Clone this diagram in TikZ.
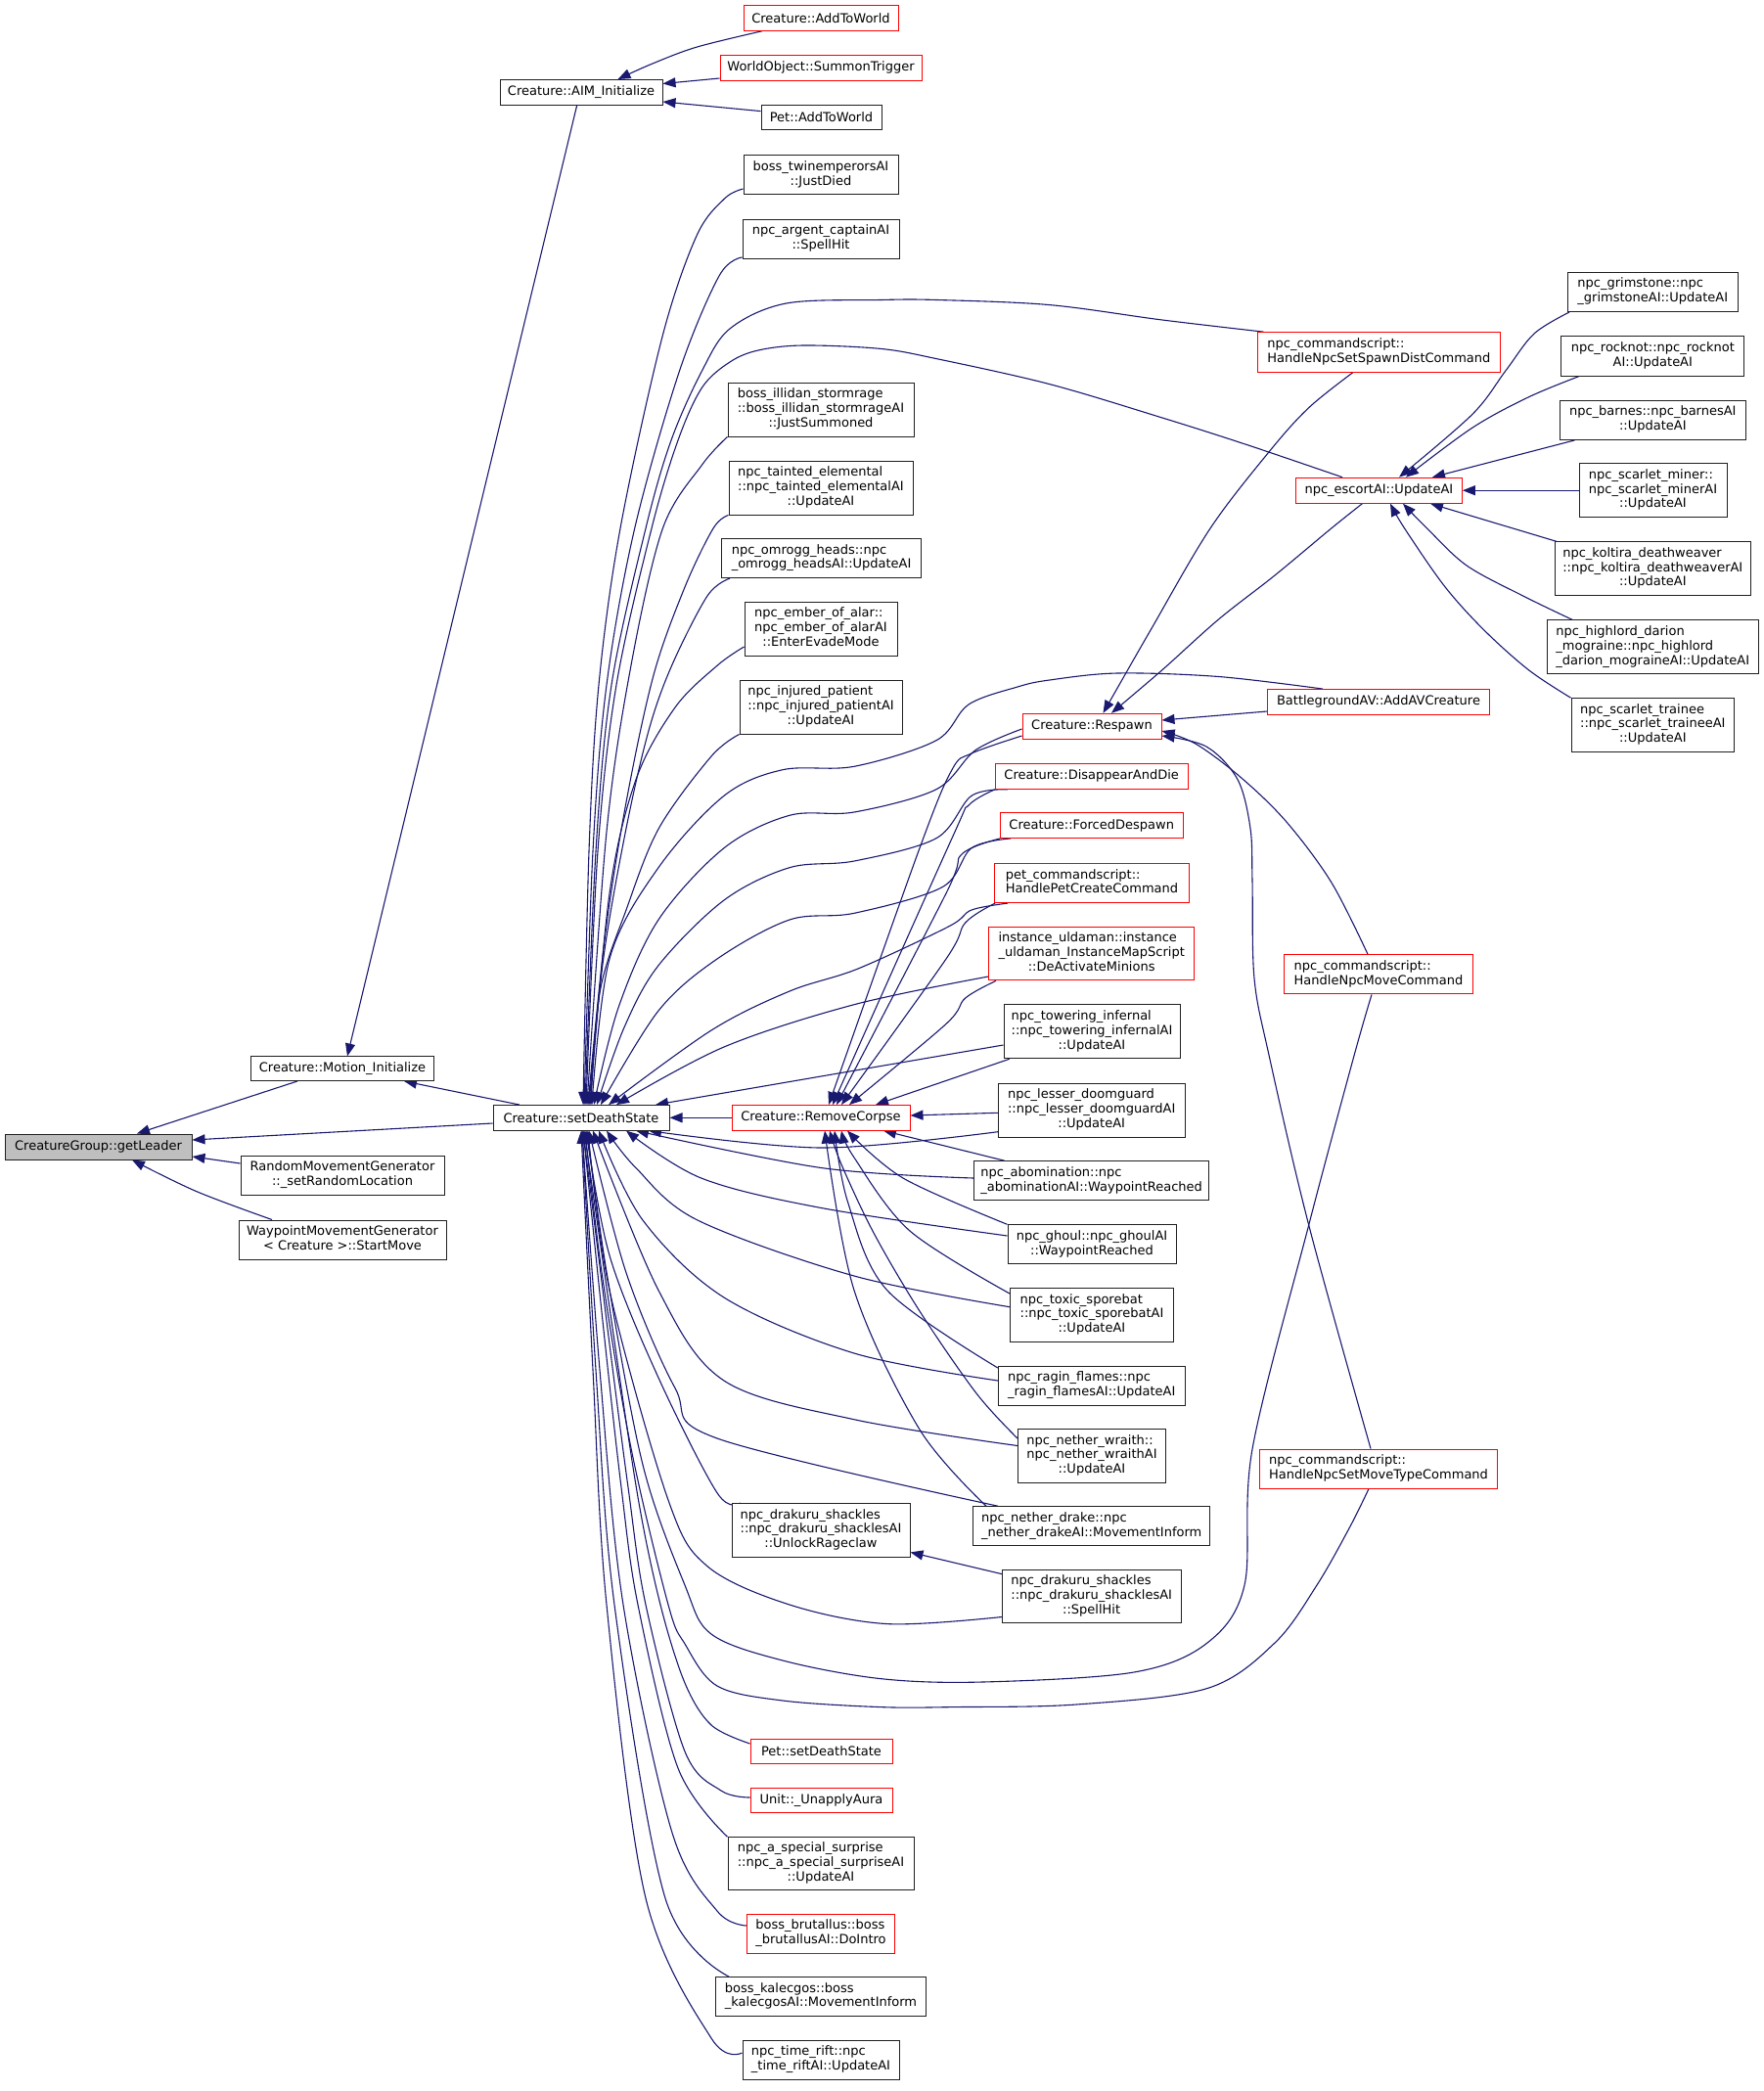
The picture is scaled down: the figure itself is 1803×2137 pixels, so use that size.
\documentclass[tikz,border=0pt]{standalone}
\usepackage{fontspec}
\setmainfont{DejaVu Sans}
\usetikzlibrary{arrows.meta,calc}
\definecolor{edgeblue}{HTML}{191970}
\definecolor{boxred}{HTML}{FF0000}
\definecolor{boxline}{HTML}{202020}
\definecolor{leadfill}{HTML}{BFBFBF}
\newcommand\nodefont{\fontsize{13}{14.8}\selectfont}
\newcommand\ml[2]{\begin{tabular}{@{}l@{}}#1\\\multicolumn{1}{@{}c@{}}{#2}\end{tabular}}
\pgfdeclarelayer{edges}
\pgfsetlayers{edges,main}
\tikzset{
 box/.style={draw=boxline, line width=1pt, fill=white, inner sep=0pt, font=\nodefont, text=black, align=center},
 redbox/.style={box, draw=boxred},
 leadbox/.style={box, fill=leadfill},
 call/.style={draw=edgeblue, line width=1.1pt, -{Triangle[length=13pt,width=10pt]}},
 sm/.style={smooth, tension=0.55},
}
\begin{document}
\begin{tikzpicture}[x=1pt,y=-1pt]
\useasboundingbox (0,0) rectangle (1803,2137);
% column 1
\node[leadbox, minimum width=191, minimum height=26] (gl) at (100.5,1172) {CreatureGroup::getLeader};
% column 2
\node[box, minimum width=187, minimum height=24.5] (mi) at (350,1092.2) {Creature::Motion\_Initialize};
\node[box, minimum width=208, minimum height=40] (rmg) at (350,1201) {\ml{RandomMovementGenerator}{::\_setRandomLocation}};
\node[box, minimum width=212, minimum height=40] (wmg) at (350,1267) {\ml{WaypointMovementGenerator}{< Creature >::StartMove}};
% column 3
\node[box, minimum width=180, minimum height=25.5] (sds) at (594,1142.3) {Creature::setDeathState};
\node[box, minimum width=166, minimum height=26] (aim) at (594,94.5) {Creature::AIM\_Initialize};
% column 4
\node[redbox, minimum width=158, minimum height=25.5] (atw) at (839,18.5) {Creature::AddToWorld};
\node[redbox, minimum width=206, minimum height=26] (sum) at (839,69.4) {WorldObject::SummonTrigger};
\node[box, minimum width=123, minimum height=25] (patw) at (839.5,119.5) {Pet::AddToWorld};
\node[box, minimum width=158, minimum height=40] (twin) at (839,178.7) {\ml{boss\_twinemperorsAI}{::JustDied}};
\node[box, minimum width=160, minimum height=40] (arg) at (839,244) {\ml{npc\_argent\_captainAI}{::SpellHit}};
\node[box, minimum width=190, minimum height=55] (ill) at (839,418.5) {\ml{boss\_illidan\_stormrage\\::boss\_illidan\_stormrageAI}{::JustSummoned}};
\node[box, minimum width=188, minimum height=55] (tai) at (839,498.5) {\ml{npc\_tainted\_elemental\\::npc\_tainted\_elementalAI}{::UpdateAI}};
\node[box, minimum width=204, minimum height=40] (omr) at (839.6,570.6) {\ml{npc\_omrogg\_heads::npc}{\_omrogg\_headsAI::UpdateAI}};
\node[box, minimum width=156, minimum height=55] (emb) at (839,642.5) {\ml{npc\_ember\_of\_alar::\\npc\_ember\_of\_alarAI}{::EnterEvadeMode}};
\node[box, minimum width=166, minimum height=55] (inj) at (839,722.5) {\ml{npc\_injured\_patient\\::npc\_injured\_patientAI}{::UpdateAI}};
\node[redbox, minimum width=182, minimum height=25.5] (rc) at (839,1142.3) {Creature::RemoveCorpse};
\node[box, minimum width=182, minimum height=55] (unl) at (839,1564) {\ml{npc\_drakuru\_shackles\\::npc\_drakuru\_shacklesAI}{::UnlockRageclaw}};
\node[redbox, minimum width=145, minimum height=25.5] (psd) at (839.5,1790) {Pet::setDeathState};
\node[redbox, minimum width=145, minimum height=25.5] (una) at (839.5,1840) {Unit::\_UnapplyAura};
\node[box, minimum width=190, minimum height=54] (spe) at (839,1904.7) {\ml{npc\_a\_special\_surprise\\::npc\_a\_special\_surpriseAI}{::UpdateAI}};
\node[redbox, minimum width=151.5, minimum height=40] (bru) at (839,1976) {\ml{boss\_brutallus::boss}{\_brutallusAI::DoIntro}};
\node[box, minimum width=215, minimum height=40] (kal) at (839,2040.5) {\ml{boss\_kalecgos::boss}{\_kalecgosAI::MovementInform}};
\node[box, minimum width=160, minimum height=40] (tri) at (839,2105) {\ml{npc\_time\_rift::npc}{\_time\_riftAI::UpdateAI}};
% column 5
\node[redbox, minimum width=142, minimum height=26] (res) at (1116,742.3) {Creature::Respawn};
\node[redbox, minimum width=197, minimum height=26] (dis) at (1115.7,793.3) {Creature::DisappearAndDie};
\node[redbox, minimum width=187, minimum height=25.5] (fds) at (1115.7,843.7) {Creature::ForcedDespawn};
\node[redbox, minimum width=199, minimum height=40] (pcmd) at (1116,902.6) {\ml{pet\_commandscript::}{HandlePetCreateCommand}};
\node[redbox, minimum width=210, minimum height=54.5] (uld) at (1115.7,974.6) {\ml{instance\_uldaman::instance\\\_uldaman\_InstanceMapScript}{::DeActivateMinions}};
\node[box, minimum width=180, minimum height=55] (tow) at (1116,1054.3) {\ml{npc\_towering\_infernal\\::npc\_towering\_infernalAI}{::UpdateAI}};
\node[box, minimum width=190.6, minimum height=55] (dmg) at (1115.7,1134.5) {\ml{npc\_lesser\_doomguard\\::npc\_lesser\_doomguardAI}{::UpdateAI}};
\node[box, minimum width=240, minimum height=40] (abo) at (1115.7,1206.7) {\ml{npc\_abomination::npc}{\_abominationAI::WaypointReached}};
\node[box, minimum width=172, minimum height=40] (gho) at (1116,1271.8) {\ml{npc\_ghoul::npc\_ghoulAI}{::WaypointReached}};
\node[box, minimum width=167, minimum height=55] (spo) at (1116,1344) {\ml{npc\_toxic\_sporebat\\::npc\_toxic\_sporebatAI}{::UpdateAI}};
\node[box, minimum width=190.6, minimum height=40] (rag) at (1115.7,1416) {\ml{npc\_ragin\_flames::npc}{\_ragin\_flamesAI::UpdateAI}};
\node[box, minimum width=151, minimum height=55] (wra) at (1116,1488) {\ml{npc\_nether\_wraith::\\npc\_nether\_wraithAI}{::UpdateAI}};
\node[box, minimum width=242.5, minimum height=40] (dra) at (1115.7,1559.7) {\ml{npc\_nether\_drake::npc}{\_nether\_drakeAI::MovementInform}};
\node[box, minimum width=182.6, minimum height=54] (shit) at (1115.7,1631.5) {\ml{npc\_drakuru\_shackles\\::npc\_drakuru\_shacklesAI}{::SpellHit}};
% column 6
\node[redbox, minimum width=248, minimum height=40.7] (ssd) at (1409.4,360) {\ml{npc\_commandscript::}{HandleNpcSetSpawnDistCommand}};
\node[redbox, minimum width=170, minimum height=26] (esc) at (1409.4,501.2) {npc\_escortAI::UpdateAI};
\node[redbox, minimum width=227, minimum height=25.5] (av) at (1409,717.3) {BattlegroundAV::AddAVCreature};
\node[redbox, minimum width=193.5, minimum height=40.3] (mcmd) at (1409,995.8) {\ml{npc\_commandscript::}{HandleNpcMoveCommand}};
\node[redbox, minimum width=243, minimum height=40] (mtyp) at (1409,1501) {\ml{npc\_commandscript::}{HandleNpcSetMoveTypeCommand}};
% column 7
\node[box, minimum width=173.4, minimum height=40.5] (gri) at (1689.3,298.3) {\ml{npc\_grimstone::npc}{\_grimstoneAI::UpdateAI}};
\node[box, minimum width=187, minimum height=40.7] (roc) at (1689.3,363.7) {\ml{npc\_rocknot::npc\_rocknot}{AI::UpdateAI}};
\node[box, minimum width=190.6, minimum height=40.4] (bar) at (1689.3,429.2) {\ml{npc\_barnes::npc\_barnesAI}{::UpdateAI}};
\node[box, minimum width=151, minimum height=54.8] (min) at (1689.5,501.2) {\ml{npc\_scarlet\_miner::\\npc\_scarlet\_minerAI}{::UpdateAI}};
\node[box, minimum width=200, minimum height=54.7] (kol) at (1689.3,581.2) {\ml{npc\_koltira\_deathweaver\\::npc\_koltira\_deathweaverAI}{::UpdateAI}};
\node[box, minimum width=216, minimum height=55] (hig) at (1689.3,661.3) {\ml{npc\_highlord\_darion\\\_mograine::npc\_highlord}{\_darion\_mograineAI::UpdateAI}};
\node[box, minimum width=166.5, minimum height=54.7] (tra) at (1689.3,741) {\ml{npc\_scarlet\_trainee\\::npc\_scarlet\_traineeAI}{::UpdateAI}};

\begin{pgfonlayer}{edges}
% into getLeader
\draw[call] (mi.south -| 304,0) -- (gl.north -| 140,0);
\draw[call] (sds.west |- 0,1148) -- (gl.east |- 0,1165);
\draw[call] (rmg.west |- 0,1189) -- (gl.east |- 0,1182);
\draw[call] plot[sm] coordinates {(wmg.north -| 278,0) (201,1217.7) (gl.south -| 135,0)};
% into Motion_Initialize
\draw[call] (aim.south -| 589.6,0) -- (mi.north -| 355,0);
\draw[call] (sds.north -| 531,0) -- (mi.south -| 413,0);
% into AIM_Initialize
\draw[call] plot[sm] coordinates {(atw.south -| 779,0) (711.8,48.2) (666,65.4) (aim.north -| 631.5,0)};
\draw[call] (sum.west |- 0,80) -- (aim.east |- 0,85.5);
\draw[call] (patw.west |- 0,113.6) -- (aim.east |- 0,104);
% into escortAI
\draw[call] plot[sm] coordinates {(gri.south -| 1604,0) (1568,341) (1539,378.8) (1504.7,423.6) (esc.north -| 1430,0)};
\draw[call] plot[sm] coordinates {(roc.south -| 1614,0) (1562,406) (1504.7,437.3) (esc.north -| 1437,0)};
\draw[call] (bar.south -| 1609.5,0) -- (esc.north -| 1464,0);
\draw[call] (min.west) -- (esc.east);
\draw[call] (kol.north -| 1591,0) -- (esc.south -| 1462,0);
\draw[call] plot[sm] coordinates {(hig.north -| 1607,0) (1556.5,608.9) (1499,577.9) (1458.6,540) (esc.south -| 1434,0)};
\draw[call] plot[sm] coordinates {(tra.north -| 1605.5,0) (1562.3,684.6) (1516.2,643.3) (1476,598.5) (1435.6,540) (esc.south -| 1421,0)};
% into Respawn
\draw[call] plot[sm] coordinates {(ssd.south -| 1382.6,0) (1337.7,416.7) (1297.4,461.4) (1237,540) (1176.4,643.3) (res.north -| 1127.5,0)};
\draw[call] plot[sm] coordinates {(esc.south -| 1392.4,0) (1360.7,540) (1303,588) (1245.5,633) (1188,684.6) (res.north -| 1136,0)};
\draw[call] (av.west |- 0,727) -- (res.east |- 0,736);
\draw[call] plot[sm] coordinates {(mcmd.north -| 1398,0) (1360.7,901.6) (1314.6,839.6) (1268.6,794.8) (1222.5,760.4) (res.east |- 0,747)};
\draw[call] plot[sm] coordinates {(mtyp.north -| 1401,0) (1337.7,1252) (1297.4,1080) (1282,1000) (1280,900) (1278,846.7) (1265,796.7) (1233,763) (res.east |- 0,752)};
% into RemoveCorpse
\draw[call] plot[sm] coordinates {(res.west |- 0,752) (993,770) (973,786.7) (940,866.7) (rc.north -| 847,0)};
\draw[call] plot[sm] coordinates {(dis.south -| 1017,0) (990,823) (973,856.7) (rc.north -| 851,0)};
\draw[call] plot[sm] coordinates {(fds.south -| 1022,0) (983,873) (967,913) (rc.north -| 855,0)};
\draw[call] plot[sm] coordinates {(pcmd.south -| 1017,0) (986.7,943) (967,980) (rc.north -| 860,0)};
\draw[call] plot[sm] coordinates {(uld.south -| 1018,0) (986.7,1020) (966.7,1046.7) (rc.north -| 868,0)};
\draw[call] (tow.south -| 1031.7,0) -- (rc.north -| 895,0);
\draw[call] (dmg.west |- 0,1137.3) -- (rc.east |- 0,1140);
\draw[call] (abo.north -| 1026.7,0) -- (rc.south -| 903,0);
\draw[call] plot[sm] coordinates {(gho.north west) (923,1204) (rc.south -| 866,0)};
\draw[call] plot[sm] coordinates {(spo.west |- 0,1322) (930,1258) (873,1183) (rc.south -| 860,0)};
\draw[call] plot[sm] coordinates {(rag.west |- 0,1398) (906.7,1318.6) (866.7,1229) (rc.south -| 853,0)};
\draw[call] plot[sm] coordinates {(wra.west |- 0,1470) (998,1424) (940,1340) (893,1260) (860,1190) (rc.south -| 848,0)};
\draw[call] plot[sm] coordinates {(dra.north -| 1008,0) (940,1461) (873,1318.6) (rc.south -| 843,0)};
\draw[call] (rc.west) -- (sds.east);
% into setDeathState, from above
\draw[call] plot[sm] coordinates {(twin.west |- 0,193) (740.5,203) (712,241) (677,344) (634,540) (612,700) (602,870) (sds.north -| 596,0)};
\draw[call] plot[sm] coordinates {(arg.west |- 0,263) (735,282) (694.6,378.8) (648.7,540) (620,700) (606,870) (sds.north -| 597,0)};
\draw[call] plot[sm] coordinates {(ssd.north -| 1291.6,0) (1188,327) (1072.8,311.6) (957.6,306.5) (900,306.5) (803.7,310) (746.3,335.7) (717.6,378.8) (686,450) (660,540) (625,700) (609,870) (sds.north -| 598,0)};
\draw[call] plot[sm] coordinates {(esc.north -| 1372,0) (1274.3,454.5) (1188,427) (1072.8,392.6) (957.6,366.7) (900,356.4) (821,353) (775,358) (746,370) (717.6,396) (693,450) (666,540) (630,700) (611,870) (sds.north -| 599,0)};
\draw[call] plot[sm] coordinates {(ill.south west) (717.6,475) (677.4,540) (645,680) (620,850) (sds.north -| 600,0)};
\draw[call] plot[sm] coordinates {(tai.south west) (729,540) (700,600) (668,690) (640,820) (618,960) (sds.north -| 601,0)};
\draw[call] plot[sm] coordinates {(omr.south -| 746,0) (723,609) (686.7,680) (663,746.7) (640,846.7) (616.7,980) (sds.north -| 602,0)};
\draw[call] plot[sm] coordinates {(emb.west |- 0,661) (733.3,680) (690,723) (650,796.7) (623,913) (sds.north -| 603,0)};
\draw[call] plot[sm] coordinates {(inj.south west) (726.7,773.3) (673.3,846.7) (640,930) (613.3,1013) (sds.north -| 604,0)};
\draw[call] plot[sm] coordinates {(av.north -| 1352,0) (1245.5,691.5) (1142,688) (1072.8,695) (1040,702) (990,720) (957,756.7) (873,783.3) (800,786.7) (740,813.3) (673,886.7) (623,980) (sds.north -| 605,0)};
\draw[call] plot[sm] coordinates {(res.west |- 0,745) (997,766.7) (957,806.7) (873,830) (807,833.3) (740,866.7) (673,940) (632,1030) (sds.north -| 607,0)};
\draw[call] plot[sm] coordinates {(dis.south -| 1030,0) (993,813.3) (957,856.7) (873,880) (807,886.7) (740,920) (673,986.7) (638,1050) (sds.north -| 610,0)};
\draw[call] plot[sm] coordinates {(fds.south -| 1033,0) (993,866.7) (963,906.7) (873,933.3) (807,940) (733,980) (673,1033) (sds.north -| 614,0)};
\draw[call] plot[sm] coordinates {(pcmd.south -| 1030,0) (993,930) (970,946.7) (877,990) (807,1013) (727,1053) (sds.north -| 622,0)};
\draw[call] plot[sm] coordinates {(uld.west |- 0,998) (873,1026.7) (740,1070) (sds.north -| 630,0)};
\draw[call] (tow.west |- 0,1068) -- (sds.north -| 670,0);
% into setDeathState, from below
\draw[call] plot[sm] coordinates {(dmg.west |- 0,1156.7) (840,1173) (sds.south -| 663,0)};
\draw[call] plot[sm] coordinates {(abo.west |- 0,1204) (840,1193.6) (sds.south -| 650,0)};
\draw[call] plot[sm] coordinates {(gho.west |- 0,1263) (840,1234.6) (716.7,1204) (sds.south -| 640,0)};
\draw[call] plot[sm] coordinates {(spo.west |- 0,1335.7) (873,1304) (713,1247) (650,1193.6) (sds.south -| 620,0)};
\draw[call] plot[sm] coordinates {(rag.west |- 0,1411) (873,1383) (740,1326) (657,1247) (sds.south -| 612,0)};
\draw[call] plot[sm] coordinates {(wra.west |- 0,1477.5) (873,1450.7) (740,1411) (673,1318.6) (sds.south -| 606,0)};
\draw[call] plot[sm] coordinates {(dra.north -| 1020,0) (733,1470) (690,1418.6) (640,1300.7) (sds.south -| 602,0)};
\draw[call] plot[sm] coordinates {(unl.north -| 757,0) (733,1525.7) (673,1408) (623,1283) (sds.south -| 599,0)};
\draw[call] plot[sm] coordinates {(shit.west |- 0,1652.5) (907,1659.6) (807,1640) (723,1600.7) (683,1533) (623,1318.6) (sds.south -| 601,0)};
\draw[call] (shit.west |- 0,1608.6) -- (unl.east |- 0,1586.4);
\draw[call] plot[sm] coordinates {(mcmd.south -| 1402,0) (1383.7,1080) (1337.7,1252) (1280,1481) (1272,1620) (1234,1679) (1159,1709) (1004,1719) (900,1715.6) (800,1697) (727,1670) (700,1620) (657,1497) (620,1300) (sds.south -| 600,0)};
\draw[call] plot[sm] coordinates {(mtyp.south -| 1399,0) (1380,1560) (1346,1620) (1303,1679) (1234,1725.5) (1100,1742) (975,1744.6) (900,1744.6) (800,1738) (733,1723) (700,1680) (683,1640) (645,1480) (615,1300) (sds.south -| 598,0)};
\draw[call] plot[sm] coordinates {(psd.west |- 0,1782) (727,1763) (700,1720) (675,1640) (652,1530) (625,1350) (sds.south -| 597,0)};
\draw[call] plot[sm] coordinates {(una.west |- 0,1837) (737,1830) (700,1790) (660,1640) (642,1520) (620,1350) (sds.south -| 596,0)};
\draw[call] plot[sm] coordinates {(spe.north west) (693,1807) (652,1640) (635,1520) (616,1350) (sds.south -| 596,0)};
\draw[call] plot[sm] coordinates {(bru.west |- 0,1968) (733,1953) (687,1873) (637,1640) (613,1400) (sds.south -| 595,0)};
\draw[call] plot[sm] coordinates {(kal.north -| 745,0) (680,1940) (628,1640) (609,1400) (sds.south -| 595,0)};
\draw[call] plot[sm] coordinates {(tri.west |- 0,2098) (727,2083) (660,1940) (620,1640) (606,1400) (sds.south -| 594,0)};
\end{pgfonlayer}
\end{tikzpicture}
\end{document}
